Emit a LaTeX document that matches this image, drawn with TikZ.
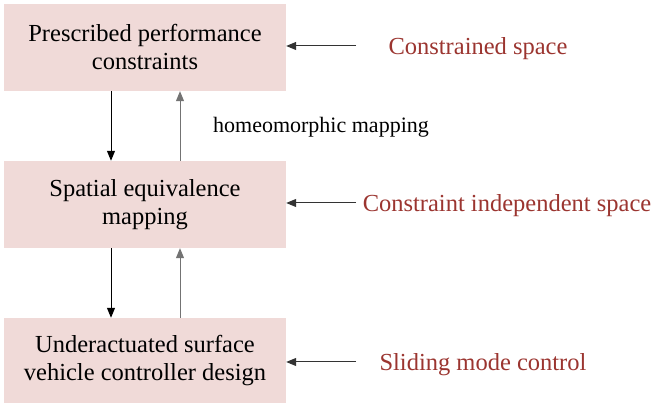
\documentclass[tikz,border=0pt]{standalone}
\usepackage{fontspec}
\setmainfont{Liberation Serif}
\usetikzlibrary{arrows.meta}
\definecolor{boxfill}{HTML}{F0DAD8}
\definecolor{labred}{HTML}{9B3530}
\tikzset{
  x=1pt,y=1pt,
  blk/.style={fill=boxfill, draw=none, minimum width=282pt, minimum height=87pt, align=center, inner sep=0pt,
    font=\fontsize{24.5pt}{28pt}\selectfont},
  lab/.style={text=labred, font=\fontsize{24.5pt}{28pt}\selectfont, inner sep=0pt},
  arr/.style={line width=1pt, -{Triangle[length=10pt,width=8pt]}},
}
\begin{document}
\begin{tikzpicture}
\useasboundingbox (0,0) rectangle (654,403);
\node[blk] (b1) at (145,355.5) {Prescribed performance\\constraints};
\node[blk] (b2) at (145,198.5) {Spatial equivalence\\mapping};
\node[blk, minimum height=86pt] (b3) at (145,42) {Underactuated surface\\vehicle controller design};

\draw[arr, black] (b1.south -| 111,0) -- (b2.north -| 111,0);
\draw[arr, black!55] (b2.north -| 180,0) -- (b1.south -| 180,0);
\draw[arr, black] (b2.south -| 111,0) -- (b3.north -| 111,0);
\draw[arr, black!55] (b3.north -| 180,0) -- (b2.south -| 180,0);

\node[font=\fontsize{22pt}{25pt}\selectfont, inner sep=0pt] (hm) at (321,276) {homeomorphic mapping};

\node[lab] (l1) at (478,354) {Constrained space};
\node[lab] (l2) at (507,197) {Constraint independent space};
\node[lab] (l3) at (483,38) {Sliding mode control};

\coordinate (t1) at (356,357);
\coordinate (t2) at (356,200);
\coordinate (t3) at (356,41);
\draw[arr, black!80] (t1) -- (b1.east |- t1);
\draw[arr, black!80] (t2) -- (b2.east |- t2);
\draw[arr, black!80] (t3) -- (b3.east |- t3);
\end{tikzpicture}
\end{document}
